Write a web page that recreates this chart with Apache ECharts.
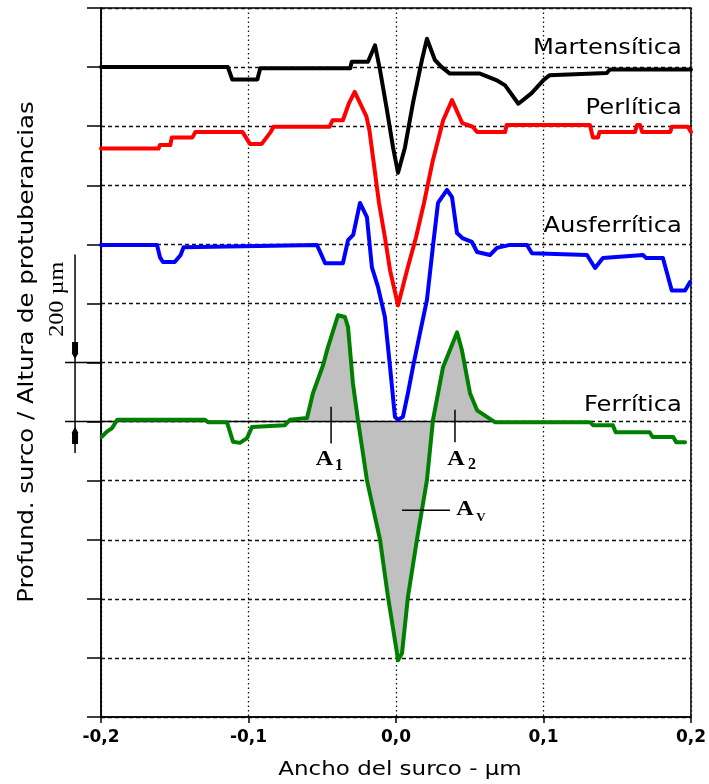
<!DOCTYPE html>
<html><head><meta charset="utf-8">
<script src="https://cdn.jsdelivr.net/npm/echarts@6/dist/echarts.min.js"></script>
<style>html,body{margin:0;padding:0;background:#fff}#c{width:709px;height:784px}</style>
</head><body><div id="c"></div>
<script>
// ---- data (x: groove width, y: offset profile height in grid units) ----
const xTicks = [-0.2, -0.1, 0.0, 0.1, 0.2];
const seriesNames = ['Martensítica', 'Perlítica', 'Ausferrítica', 'Ferrítica'];
const martensitica = [[-0.2,11.0],[-0.114,11.0],[-0.111,10.79],[-0.094,10.79],[-0.092,10.98],[-0.031,10.98],[-0.030,11.09],[-0.019,11.09],[-0.0142,11.37],[-0.0108,10.95],[-0.0061,10.27],[-0.002,9.64],[0.0014,9.21],[0.0061,9.64],[0.0115,10.39],[0.0176,11.12],[0.021,11.48],[0.0264,11.12],[0.031,11.0],[0.0366,10.89],[0.057,10.89],[0.068,10.78],[0.074,10.69],[0.083,10.38],[0.092,10.56],[0.1,10.78],[0.104,10.86],[0.143,10.9],[0.145,10.96],[0.2,10.96]];
const perlitica = [[-0.2,9.62],[-0.161,9.62],[-0.16,9.68],[-0.153,9.68],[-0.152,9.81],[-0.138,9.81],[-0.136,9.9],[-0.104,9.9],[-0.099,9.7],[-0.091,9.7],[-0.085,9.9],[-0.083,9.99],[-0.045,9.99],[-0.043,10.1],[-0.036,10.1],[-0.032,10.38],[-0.028,10.58],[-0.02,10.16],[-0.018,9.93],[-0.0115,8.7],[-0.0075,8.12],[-0.004,7.56],[0.0014,6.97],[0.0075,7.56],[0.0136,8.12],[0.019,8.7],[0.025,9.42],[0.032,10.1],[0.038,10.44],[0.045,10.05],[0.052,9.99],[0.055,9.9],[0.074,9.9],[0.075,10.02],[0.1315,10.02],[0.1335,9.81],[0.137,9.81],[0.138,9.9],[0.162,9.9],[0.1635,10.02],[0.1655,10.02],[0.167,9.9],[0.186,9.9],[0.187,9.99],[0.198,9.99],[0.2,9.9]];
const ausferritica = [[-0.2,7.99],[-0.162,7.99],[-0.16,7.78],[-0.158,7.7],[-0.15,7.7],[-0.146,7.82],[-0.144,7.95],[-0.0536,7.99],[-0.048,7.68],[-0.036,7.68],[-0.0325,8.07],[-0.029,8.16],[-0.0244,8.7],[-0.0197,8.46],[-0.0163,7.61],[-0.0122,7.28],[-0.0075,6.77],[-0.004,5.92],[-0.0007,5.08],[0.0014,5.03],[0.0047,5.08],[0.0081,5.48],[0.0115,5.92],[0.0163,6.5],[0.021,7.06],[0.025,7.95],[0.0285,8.7],[0.0346,8.92],[0.038,8.8],[0.0414,8.19],[0.0454,8.1],[0.0515,8.04],[0.055,7.87],[0.0637,7.82],[0.0685,7.94],[0.0773,7.99],[0.0888,7.99],[0.0922,7.85],[0.1295,7.82],[0.135,7.6],[0.1403,7.77],[0.1675,7.82],[0.1695,7.77],[0.181,7.77],[0.187,7.22],[0.196,7.22],[0.1993,7.36]];
const ferritica = [[-0.1995,4.74],[-0.196,4.83],[-0.1925,4.89],[-0.189,5.03],[-0.1295,5.03],[-0.1275,4.99],[-0.1146,4.99],[-0.1105,4.66],[-0.1058,4.64],[-0.101,4.72],[-0.0976,4.91],[-0.0753,4.94],[-0.0719,5.03],[-0.0603,5.06],[-0.0563,5.48],[-0.0495,5.95],[-0.0461,6.26],[-0.0393,6.8],[-0.0346,6.77],[-0.0325,6.6],[-0.0292,5.65],[-0.0258,5.03],[-0.0197,4.01],[-0.0108,3.0],[-0.0054,2.03],[0.0007,1.08],[0.0014,0.96],[0.0041,1.08],[0.0081,2.03],[0.0142,3.0],[0.021,4.01],[0.0251,5.03],[0.0319,5.92],[0.0366,6.21],[0.0414,6.51],[0.0447,6.21],[0.0502,5.48],[0.055,5.19],[0.0617,5.08],[0.0671,4.99],[0.1315,4.99],[0.1336,4.94],[0.147,4.94],[0.149,4.82],[0.172,4.82],[0.174,4.74],[0.188,4.74],[0.19,4.65],[0.196,4.65]];
const ferritaBase = 5;           // reference level of the ferritic profile
const fillRange = [-0.061, 0.068]; // shaded region A1, Av, A2

// ---- chart ----
const chart = echarts.init(document.getElementById('c'), null, {renderer: 'canvas'});
const lineSeries = (name, data, color) => ({
  name, type: 'line', data, symbol: 'none', z: 5,
  lineStyle: {color, width: 4, join: 'round', cap: 'round'},
  animation: false
});
const fillData = ferritica.filter(p => p[0] >= fillRange[0] && p[0] <= fillRange[1]);

chart.setOption({
  animation: false,
  backgroundColor: '#fff',
  grid: {left: 101, right: 18, top: 8, bottom: 67, show: true, borderColor: '#000', borderWidth: 1.5},
  xAxis: {
    type: 'value', min: xTicks[0], max: xTicks[xTicks.length - 1], interval: 0.1,
    axisLine: {onZero: false, lineStyle: {color: '#000', width: 1.5}},
    axisTick: {show: true, length: 6, lineStyle: {color: '#000', width: 1.5}},
    axisLabel: {color: '#000', fontFamily: 'DejaVu Sans', fontWeight: 'bold', fontSize: 17, margin: 12,
      formatter: v => (Math.abs(v) < 1e-9 ? 0 : v).toFixed(1).replace('.', ',')},
    splitLine: {show: true, lineStyle: {color: '#111', width: 1.3, type: [1.5, 3]}}
  },
  yAxis: {
    type: 'value', min: 0, max: 12, interval: 1,
    axisLine: {show: true, onZero: false, lineStyle: {color: '#000', width: 1.5}},
    axisTick: {show: true, length: 14, lineStyle: {color: '#000', width: 1.5}},
    axisLabel: {show: false},
    splitLine: {show: true, lineStyle: {color: '#111', width: 1.3, type: [4, 3]}}
  },
  series: [
    {type: 'line', data: fillData, symbol: 'none', z: 2, lineStyle: {width: 0},
     areaStyle: {color: '#c0c0c0', opacity: 1, origin: ferritaBase}},
    {type: 'line', data: [[xTicks[0], ferritaBase], [fillRange[1], ferritaBase]], symbol: 'none', z: 3,
     lineStyle: {color: '#000', width: 1.5}},
    lineSeries(seriesNames[0], martensitica, '#000000'),
    lineSeries(seriesNames[1], perlitica, '#ff0000'),
    lineSeries(seriesNames[2], ausferritica, '#0000ff'),
    lineSeries(seriesNames[3], ferritica, '#008000')
  ]
});

// ---- annotations positioned through the chart's own scales ----
const P = (x, y) => chart.convertToPixel({gridIndex: 0}, [x, y]);
const sans = '"DejaVu Sans", Verdana, sans-serif';
const serif = '"Liberation Serif", "Times New Roman", serif';
const g = [];
function text(t, pt, font, opts) {
  const o = opts || {};
  const el = {type: 'text', x: pt[0], y: pt[1], z: 20,
    style: Object.assign({text: t, font, fill: '#000', textAlign: 'center', textVerticalAlign: 'middle'}, o.style || {})};
  if (o.scaleX) el.scaleX = o.scaleX;
  if (o.rotation) el.rotation = o.rotation;
  g.push(el);
}
function line(a, b, w) {
  g.push({type: 'line', z: 20, shape: {x1: a[0], y1: a[1], x2: b[0], y2: b[1]}, style: {stroke: '#000', lineWidth: w || 1.5}});
}
// series labels
const labelX = 0.1939;
const labelY = [11.32, 10.30, 8.30, 5.28];
seriesNames.forEach((n, i) => {
  text(n, P(labelX, labelY[i]), '22px ' + sans, {scaleX: 1.1, style: {textAlign: 'right'}});
});
// A1 / A2 / Av markers
const a1 = P(-0.044, 4.63), a1t = P(-0.044, 5.25);
line(a1t, a1);
text('A', [a1[0] - 6.5, a1[1] + 16], 'bold 22px ' + serif, {scaleX: 1.1});
text('1', [a1[0] + 8, a1[1] + 22], 'bold 16px ' + serif);
const a2 = P(0.040, 4.65), a2t = P(0.040, 5.2);
line(a2t, a2);
text('A', [a2[0] + 1, a2[1] + 17], 'bold 22px ' + serif, {scaleX: 1.1});
text('2', [a2[0] + 17, a2[1] + 23], 'bold 16px ' + serif);
const av0 = P(0.0041, 3.5), av1 = P(0.0366, 3.5);
line(av0, av1);
text('A', [av1[0] + 15, av1[1] - 1], 'bold 22px ' + serif, {scaleX: 1.1});
text('V', [av1[0] + 31, av1[1] + 7], 'bold 13px ' + serif);
// 200 µm scale bar
const sbX = -0.2176;
const sTop = P(sbX, 7.83), sBot = P(sbX, 4.47);
line(sTop, sBot, 1.5);
[6, 5].forEach(v => line(P(-0.2244, v), P(-0.2, v), 1.5));
const tipU = P(sbX, 6.06), tipD = P(sbX, 4.91);
g.push({type: 'polygon', z: 20, shape: {points: [[tipU[0]-3, tipU[1]-17], [tipU[0]+3, tipU[1]-17], [tipU[0]+3, tipU[1]-6], [tipU[0]+3.5, tipU[1]-6], [tipU[0], tipU[1]], [tipU[0]-3.5, tipU[1]-6], [tipU[0]-3, tipU[1]-6]]}, style: {fill: '#000'}});
g.push({type: 'polygon', z: 20, shape: {points: [[tipD[0]-3, tipD[1]+17], [tipD[0]+3, tipD[1]+17], [tipD[0]+3, tipD[1]+6], [tipD[0]+3.5, tipD[1]+6], [tipD[0], tipD[1]], [tipD[0]-3.5, tipD[1]+6], [tipD[0]-3, tipD[1]+6]]}, style: {fill: '#000'}});
text('200 µm', P(-0.2298, 7.07), '22px ' + serif, {rotation: Math.PI / 2, scaleX: 1.1});
// axis titles
text('Profund. surco / Altura de protuberancias', [28, 352], '21px ' + sans, {rotation: Math.PI / 2, scaleX: 1.16});
text('Ancho del surco - µm', [400, 770], '20px ' + sans, {scaleX: 1.15});

chart.setOption({graphic: g});
</script>
</body></html>
